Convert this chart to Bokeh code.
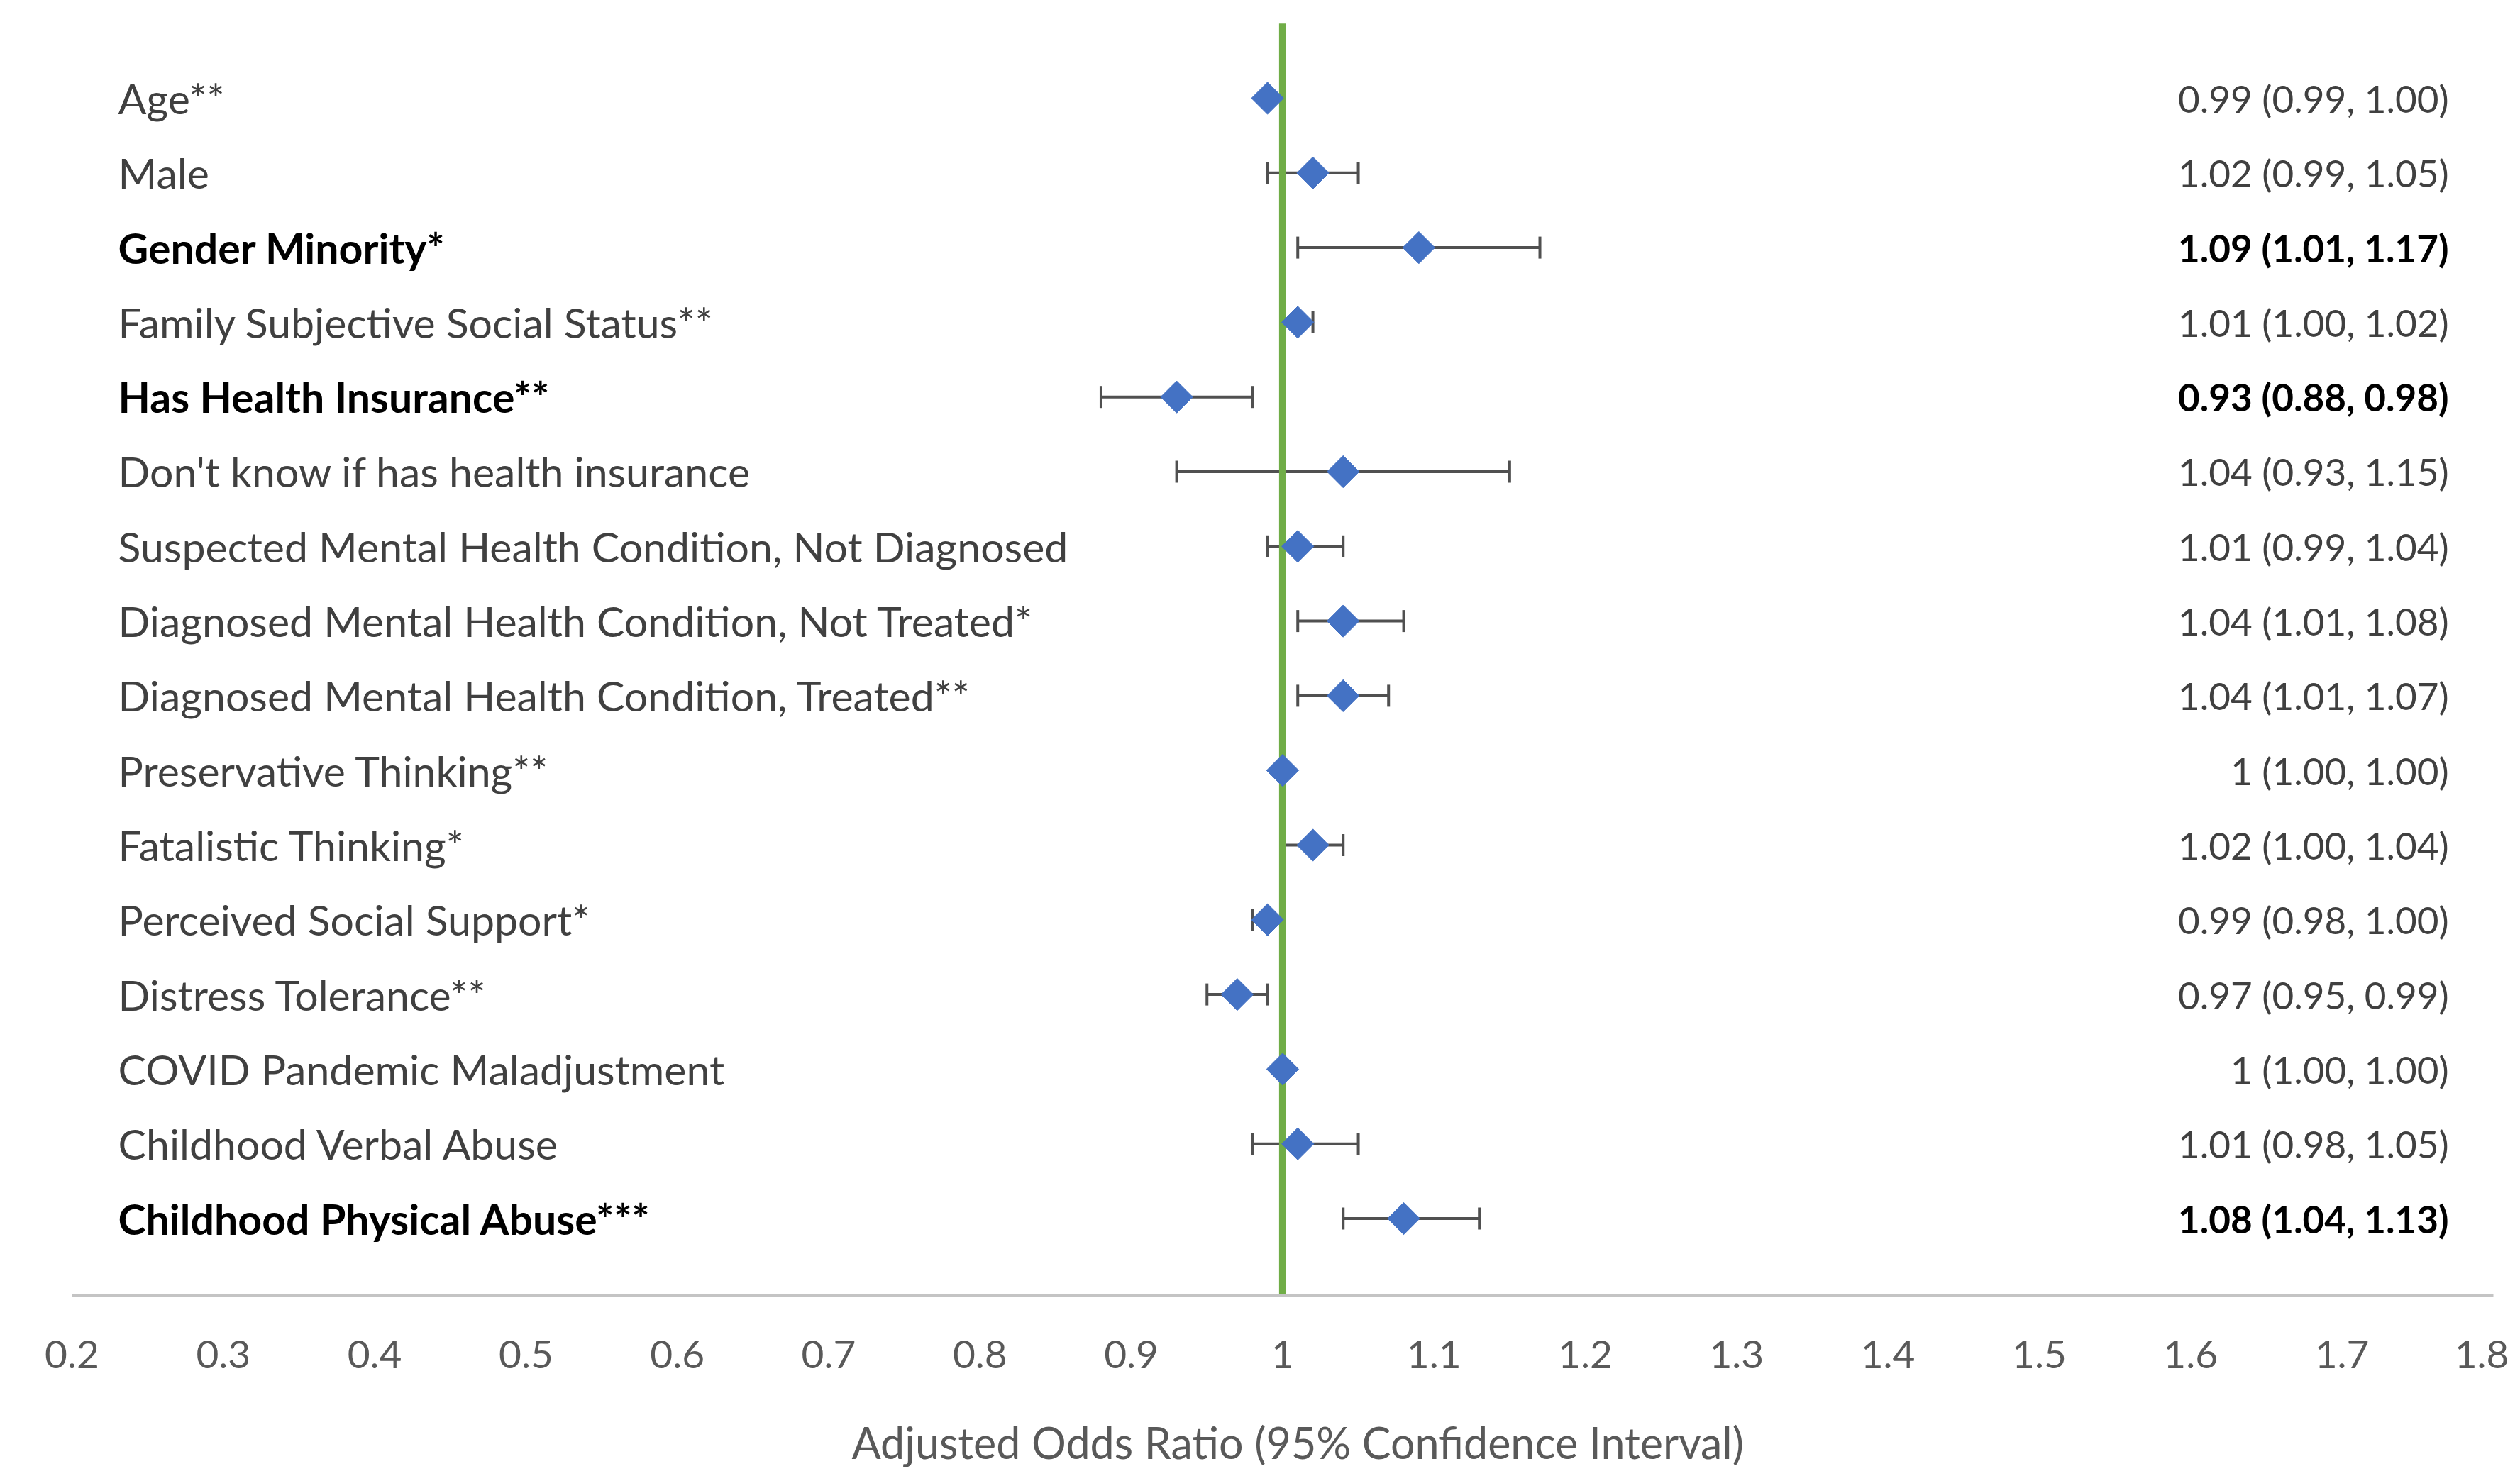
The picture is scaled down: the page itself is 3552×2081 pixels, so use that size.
from bokeh.plotting import figure
from bokeh.models import Range1d, FixedTicker, Whisker, TeeHead, ColumnDataSource
from bokeh.core.properties import value
from bokeh.embed import file_html
from bokeh.resources import INLINE

# ---------------- data ----------------
labels = [
    "Age**",
    "Male",
    "Gender Minority*",
    "Family Subjective Social Status**",
    "Has Health Insurance**",
    "Don't know if has health insurance",
    "Suspected Mental Health Condition, Not Diagnosed",
    "Diagnosed Mental Health Condition, Not Treated*",
    "Diagnosed Mental Health Condition, Treated**",
    "Preservative Thinking**",
    "Fatalistic Thinking*",
    "Perceived Social Support*",
    "Distress Tolerance**",
    "COVID Pandemic Maladjustment",
    "Childhood Verbal Abuse",
    "Childhood Physical Abuse***",
]
odds = [0.99, 1.02, 1.09, 1.01, 0.93, 1.04, 1.01, 1.04, 1.04, 1.00, 1.02, 0.99, 0.97, 1.00, 1.01, 1.08]
lower = [0.99, 0.99, 1.01, 1.00, 0.88, 0.93, 0.99, 1.01, 1.01, 1.00, 1.00, 0.98, 0.95, 1.00, 0.98, 1.04]
upper = [1.00, 1.05, 1.17, 1.02, 0.98, 1.15, 1.04, 1.08, 1.07, 1.00, 1.04, 1.00, 0.99, 1.00, 1.05, 1.13]
ci_text = [
    "0.99 (0.99, 1.00)",
    "1.02 (0.99, 1.05)",
    "1.09 (1.01, 1.17)",
    "1.01 (1.00, 1.02)",
    "0.93 (0.88, 0.98)",
    "1.04 (0.93, 1.15)",
    "1.01 (0.99, 1.04)",
    "1.04 (1.01, 1.08)",
    "1.04 (1.01, 1.07)",
    "1 (1.00, 1.00)",
    "1.02 (1.00, 1.04)",
    "0.99 (0.98, 1.00)",
    "0.97 (0.95, 0.99)",
    "1 (1.00, 1.00)",
    "1.01 (0.98, 1.05)",
    "1.08 (1.04, 1.13)",
]
significant = [False, False, True, False, True, False, False, False, False,
               False, False, False, False, False, False, True]
tick_values = [0.2, 0.3, 0.4, 0.5, 0.6, 0.7, 0.8, 0.9, 1.0, 1.1, 1.2, 1.3, 1.4, 1.5, 1.6, 1.7, 1.8]
tick_labels = ["0.2", "0.3", "0.4", "0.5", "0.6", "0.7", "0.8", "0.9", "1",
               "1.1", "1.2", "1.3", "1.4", "1.5", "1.6", "1.7", "1.8"]
reference_value = 1.0
x_title = "Adjusted Odds Ratio (95% Confidence Interval)"

# ---------------- layout constants ----------------
FONT = "Lato"
WIDTH, HEIGHT = 3536, 2073
X_START, X_END = 0.15265, 1.8104
Y_TOP, Y_BOTTOM = -1.3105, 18.376   # frame covers the whole figure
AXIS_Y = 16.03                      # where the x axis is drawn
TITLE_X, TITLE_Y = 1.010, 18.0      # baseline of the axis title
LABEL_X = 0.2305
RIGHT_X = 1.7706
LABEL_SIZE = "59px"
CI_SIZE = "53px"

rows = list(range(len(labels)))

src = ColumnDataSource(dict(y=rows, odds=odds, lower=lower, upper=upper))

def subset(flag):
    idx = [i for i in rows if significant[i] == flag]
    return ColumnDataSource(dict(
        y=[rows[i] for i in idx],
        label=[labels[i] for i in idx],
        ci=[ci_text[i] for i in idx],
    ))

reg_src = subset(False)
bold_src = subset(True)

p = figure(
    width=WIDTH, height=HEIGHT,
    x_range=Range1d(X_START, X_END),
    y_range=Range1d(Y_BOTTOM, Y_TOP),
    y_axis_location=None,
    min_border_left=0, min_border_right=0, min_border_top=0, min_border_bottom=0,
    output_backend="svg", toolbar_location=None,
)
p.grid.visible = False
p.outline_line_color = None
p.background_fill_color = "white"
p.border_fill_color = "white"

ax = p.xaxis[0]
ax.fixed_location = AXIS_Y
ax.ticker = FixedTicker(ticks=tick_values)
ax.major_label_overrides = dict(zip(tick_values, tick_labels))
ax.bounds = (tick_values[0], tick_values[-1])
ax.axis_line_color = "#C4C4C4"
ax.axis_line_width = 3
ax.major_tick_line_color = None
ax.minor_tick_line_color = None
ax.major_tick_out = 0
ax.major_tick_in = 0
ax.minor_tick_out = 0
ax.major_label_standoff = 64
ax.major_label_text_font = FONT
ax.major_label_text_font_size = "55px"
ax.major_label_text_color = "#595959"

# axis title
p.text(x=[TITLE_X], y=[TITLE_Y], text=[x_title], text_align="center", text_baseline="alphabetic",
       text_font=value(FONT), text_font_size="61px", text_color="#595959")

# reference line at OR = 1
p.segment(x0=[reference_value], y0=[-1.0], x1=[reference_value], y1=[AXIS_Y],
          line_color="#70AD47", line_width=10)

# confidence intervals
p.add_layout(Whisker(
    base="y", lower="lower", upper="upper", dimension="width", source=src,
    line_color="#505050", line_width=4,
    lower_head=TeeHead(size=31, line_color="#505050", line_width=4),
    upper_head=TeeHead(size=31, line_color="#505050", line_width=4),
))

# point estimates
p.scatter(x="odds", y="y", source=src, marker="square", angle=0.785398, size=32,
          fill_color="#4472C4", line_color="#4472C4")

# left labels
p.text(x=LABEL_X, y="y", text="label", source=reg_src, text_align="left", text_baseline="middle",
       text_font=value(FONT), text_font_size=LABEL_SIZE, text_color="#404040")
p.text(x=LABEL_X, y="y", text="label", source=bold_src, text_align="left", text_baseline="middle",
       text_font=value(FONT), text_font_size=LABEL_SIZE, text_color="#000000", text_font_style="bold")

# right labels
p.text(x=RIGHT_X, y="y", text="ci", source=reg_src, text_align="right", text_baseline="middle",
       text_font=value(FONT), text_font_size=CI_SIZE, text_color="#404040")
p.text(x=RIGHT_X, y="y", text="ci", source=bold_src, text_align="right", text_baseline="middle",
       text_font=value(FONT), text_font_size=CI_SIZE, text_color="#000000", text_font_style="bold")

open("out.html", "w").write(file_html(p, INLINE))
